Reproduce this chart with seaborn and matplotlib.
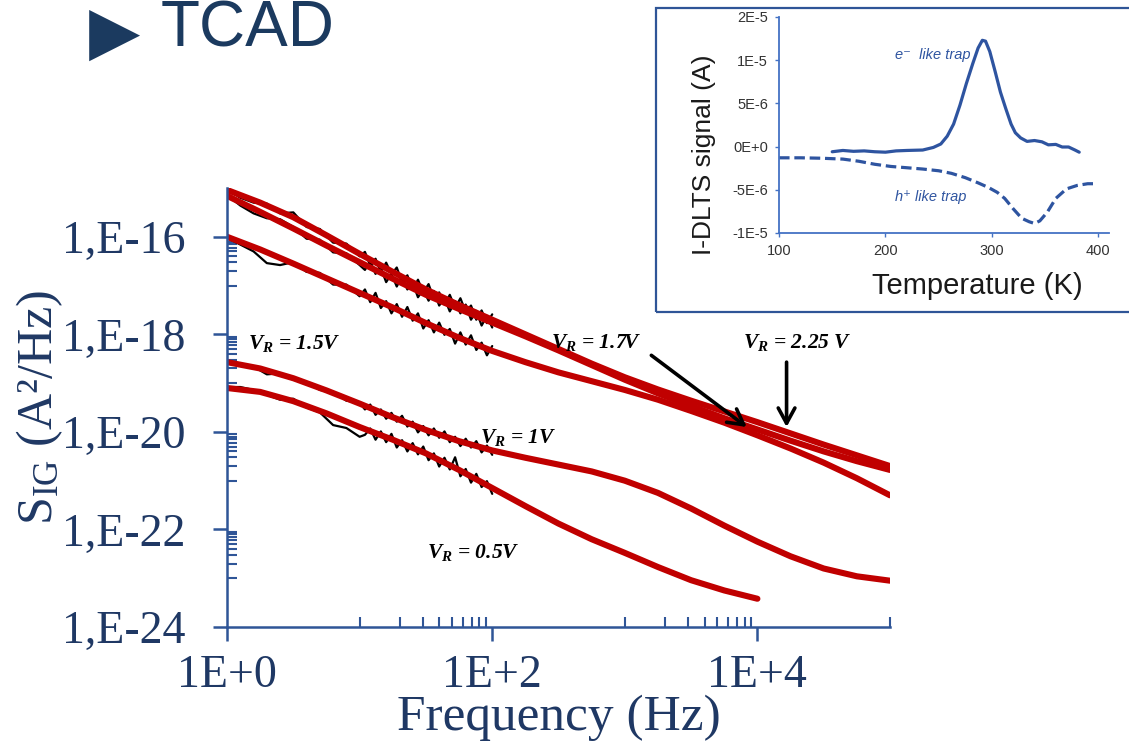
import numpy as np
import seaborn as sns
import matplotlib.pyplot as plt
from matplotlib import ticker
from matplotlib.patches import Rectangle

sns.set_style('white')
plt.rcParams['font.family'] = ['Liberation Serif', 'DejaVu Serif']
plt.rcParams['mathtext.fontset'] = 'custom'
plt.rcParams['mathtext.rm'] = 'Liberation Serif'
plt.rcParams['mathtext.it'] = 'Liberation Serif:italic:bold'
plt.rcParams['mathtext.bf'] = 'Liberation Serif:bold'

NAVY = '#1F3864'
AXBLUE = '#2F5597'
RED = '#C00000'
TRAPBLUE = '#2E54A0'

# ---- TCAD fits: log10(S_IG) at log10(f) = 0, 0.25, ... 5
lf_fit = [0.0, 0.25, 0.5, 0.75, 1.0, 1.25, 1.5, 1.75, 2.0, 2.25, 2.5,
          2.75, 3.0, 3.25, 3.5, 3.75, 4.0, 4.25, 4.5, 4.75, 5.0]
fit_225 = [-15.04, -15.30, -15.60, -15.97, -16.35, -16.72, -17.08, -17.40, -17.70, -18.00, -18.30,
           -18.60, -18.88, -19.13, -19.36, -19.58, -19.80, -20.03, -20.26, -20.48, -20.70]
fit_17 = [-15.16, -15.49, -15.83, -16.18, -16.52, -16.86, -17.19, -17.48, -17.76, -18.04, -18.33,
          -18.63, -18.93, -19.21, -19.47, -19.72, -19.95, -20.18, -20.40, -20.60, -20.78]
fit_15 = [-16.00, -16.26, -16.55, -16.85, -17.15, -17.45, -17.77, -18.07, -18.34, -18.57, -18.78,
          -18.96, -19.14, -19.34, -19.57, -19.81, -20.07, -20.34, -20.63, -20.95, -21.30]
fit_10 = [-18.57, -18.70, -18.90, -19.15, -19.42, -19.70, -19.96, -20.19, -20.38, -20.53, -20.67,
          -20.81, -21.00, -21.25, -21.57, -21.92, -22.25, -22.55, -22.80, -22.96, -23.05]
lf_fit_05 = [0.0, 0.25, 0.5, 0.75, 1.0, 1.25, 1.5, 1.75, 2.0, 2.25, 2.5, 2.75, 3.0, 3.25, 3.5, 3.75, 4.0]
fit_05 = [-19.10, -19.18, -19.37, -19.62, -19.90, -20.16, -20.44, -20.78, -21.15, -21.52, -21.88,
          -22.20, -22.48, -22.77, -23.04, -23.25, -23.42]

# ---- measured spectra (black) below 100 Hz: log10(f), log10(S_IG)
lf_meas = [0.0, 0.1, 0.2, 0.3, 0.4, 0.5, 0.6, 0.7, 0.8, 0.9, 1.0,
           1.04, 1.08, 1.12, 1.16, 1.2, 1.24, 1.28, 1.32, 1.36, 1.40, 1.44, 1.48,
           1.52, 1.56, 1.60, 1.64, 1.68, 1.72, 1.76, 1.80, 1.84, 1.88, 1.92, 1.96, 2.0]
meas_225 = [-15.02, -15.20, -15.30, -15.32, -15.52, -15.50, -15.80, -15.84, -16.12, -16.14, -16.40,
            -16.31, -16.59, -16.45, -16.73, -16.53, -16.77, -16.63, -16.93, -16.79, -17.09, -16.88, -17.14,
            -16.97, -17.28, -17.14, -17.39, -17.19, -17.46, -17.26, -17.54, -17.41, -17.70, -17.51, -17.77, -17.59]
meas_17 = [-15.14, -15.36, -15.52, -15.62, -15.64, -15.80, -16.04, -16.06, -16.32, -16.34, -16.58,
           -16.68, -16.50, -16.76, -16.64, -16.93, -16.76, -17.02, -16.81, -17.08, -16.94, -17.24, -17.08,
           -17.31, -17.11, -17.41, -17.26, -17.53, -17.32, -17.57, -17.39, -17.70, -17.52, -17.82, -17.62, -17.86]
meas_15 = [-16.02, -16.16, -16.30, -16.54, -16.58, -16.52, -16.72, -16.74, -16.98, -16.98, -17.22,
           -17.08, -17.34, -17.15, -17.46, -17.32, -17.57, -17.38, -17.64, -17.44, -17.72, -17.57, -17.88,
           -17.71, -17.96, -17.76, -18.01, -17.89, -18.19, -17.96, -18.21, -18.02, -18.32, -18.17, -18.43, -18.24]
meas_10 = [-18.57, -18.64, -18.66, -18.82, -18.80, -18.93, -18.98, -19.14, -19.18, -19.36, -19.40,
           -19.54, -19.44, -19.65, -19.54, -19.73, -19.61, -19.79, -19.67, -19.89, -19.79, -20.01, -19.88,
           -20.07, -19.93, -20.12, -19.99, -20.21, -20.10, -20.29, -20.14, -20.32, -20.19, -20.42, -20.28, -20.47]
meas_05 = [-19.08, -19.08, -19.14, -19.24, -19.34, -19.32, -19.50, -19.60, -19.86, -19.92, -20.10,
           -20.06, -19.93, -20.16, -19.99, -20.21, -20.04, -20.32, -20.17, -20.40, -20.23, -20.46, -20.30,
           -20.58, -20.44, -20.71, -20.53, -20.77, -20.52, -20.91, -20.76, -21.04, -20.86, -21.13, -21.01, -21.27]

y_major = [1e-24, 1e-22, 1e-20, 1e-18, 1e-16]
y_major_labels = ['1,E-24', '1,E-22', '1,E-20', '1,E-18', '1,E-16']
x_major = [1, 100, 1e4]
x_major_labels = ['1E+0', '1E+2', '1E+4']

# ---- inset: I-DLTS signal (1e-6 A)
e_T = [150, 160, 170, 180, 190, 200, 210, 220, 235, 245, 252, 258, 264, 270, 276, 282, 287, 291,
       294, 298, 303, 308, 313, 318, 322, 327, 333, 340, 347, 353, 360, 366, 372, 378, 382]
e_sig = [-0.6, -0.45, -0.55, -0.5, -0.6, -0.65, -0.5, -0.45, -0.4, -0.1, 0.3, 1.2, 2.6, 4.8, 7.3, 9.6, 11.4, 12.3,
         12.2, 11.0, 8.7, 6.3, 4.4, 2.6, 1.6, 1.0, 0.6, 0.7, 0.55, 0.2, 0.25, -0.05, -0.05, -0.4, -0.65]
h_T = [100, 120, 140, 160, 175, 190, 205, 220, 235, 250, 262, 275, 287, 297, 305, 312, 320, 328,
       335, 340, 345, 352, 360, 370, 380, 390, 397]
h_sig = [-1.3, -1.3, -1.35, -1.45, -1.7, -2.05, -2.3, -2.45, -2.6, -2.8, -3.1, -3.6, -4.2, -4.75, -5.3, -6.0, -7.2, -8.3,
         -8.7, -8.9, -8.6, -7.6, -6.0, -4.9, -4.5, -4.3, -4.3]
in_y_ticks = [-1e-5, -5e-6, 0, 5e-6, 1e-5, 1.5e-5]
in_y_labels = ['-1E-5', '-5E-6', '0E+0', '5E-6', '1E-5', '2E-5']
in_x_ticks = [100, 200, 300, 400]

fig = plt.figure(figsize=(11.29, 7.41), dpi=100)

# inset frame drawn first, behind everything
fig.add_artist(Rectangle((0.581, 0.579), 0.45, 0.410, transform=fig.transFigure,
                         facecolor='none', edgecolor=AXBLUE, lw=1.6, zorder=-1))

ax = fig.add_axes([0.2011, 0.1538, 0.5872, 0.5925])
ax.set_facecolor('none')
ax.set_xscale('log')
ax.set_yscale('log')

f_meas = 10 ** np.array(lf_meas)
for m in [meas_225, meas_17, meas_15, meas_10, meas_05]:
    sns.lineplot(x=f_meas, y=10 ** np.array(m), ax=ax, color='black', lw=1.6, estimator=None)
for fx, fy in [(lf_fit, fit_225), (lf_fit, fit_17), (lf_fit, fit_15), (lf_fit, fit_10), (lf_fit_05, fit_05)]:
    sns.lineplot(x=10 ** np.array(fx), y=10 ** np.array(fy), ax=ax, color=RED, lw=4.4, estimator=None,
                 solid_capstyle='round', solid_joinstyle='round')

ax.set_xlim(1, 1e5)
ax.set_ylim(1e-24, 1e-15)
for s in ['top', 'right']:
    ax.spines[s].set_visible(False)
for s in ['left', 'bottom']:
    ax.spines[s].set_color(AXBLUE)
    ax.spines[s].set_linewidth(1.8)

ax.xaxis.set_major_locator(ticker.FixedLocator(x_major))
ax.xaxis.set_major_formatter(ticker.FixedFormatter(x_major_labels))
ax.xaxis.set_minor_locator(ticker.FixedLocator([10, 20, 30, 40, 50, 60, 70, 80, 90,
                                                1e3, 2e3, 3e3, 4e3, 5e3, 6e3, 7e3, 8e3, 9e3, 1e5]))
ax.xaxis.set_minor_formatter(ticker.NullFormatter())
ax.yaxis.set_major_locator(ticker.FixedLocator(y_major))
ax.yaxis.set_major_formatter(ticker.FixedFormatter(y_major_labels))
y_minor = []
for d in [1e-23, 1e-21, 1e-19, 1e-17]:
    y_minor += [k * d for k in range(1, 10)]
ax.yaxis.set_minor_locator(ticker.FixedLocator(y_minor))
ax.yaxis.set_minor_formatter(ticker.NullFormatter())

ax.tick_params(which='both', bottom=True, left=True)
ax.tick_params(which='major', direction='out', length=10, width=1.8, color=AXBLUE,
               labelsize=33, labelcolor=NAVY)
ax.tick_params(axis='y', which='major', pad=20)
ax.tick_params(axis='x', which='major', pad=10)
ax.tick_params(which='minor', direction='in', length=7, width=1.5, color=AXBLUE)

ax.set_xlabel('Frequency (Hz)', fontsize=37, color=NAVY)
ax.set_ylabel(r'$\mathrm{S}_{\mathrm{IG}}$ (A²/Hz)', fontsize=36, color=NAVY)
ax.xaxis.set_label_coords(0.5, -0.153)
ax.yaxis.set_label_coords(-0.245, 0.5)

lab = dict(fontsize=15.5, fontweight='bold', style='italic', color='black', va='center', ha='left')
ax.text(10 ** 0.16, 10 ** -18.18, r'$V_R$ = 1.5V', **lab)
ax.text(10 ** 1.91, 10 ** -20.11, r'$V_R$ = 1V', **lab)
ax.text(10 ** 1.51, 10 ** -22.47, r'$V_R$ = 0.5V', **lab)
ax.text(10 ** 2.44, 10 ** -18.16, r'$V_R$ = 1.7V', **lab)
ax.text(10 ** 3.89, 10 ** -18.16, r'$V_R$ = 2.25 V', **lab)
arr = dict(arrowstyle='->,head_length=0.55,head_width=0.3', lw=2.6, color='black',
           shrinkA=0, shrinkB=0, mutation_scale=20)
ax.annotate('', xy=(10 ** 3.92, 10 ** -19.90), xytext=(10 ** 3.20, 10 ** -18.43), arrowprops=arr)
ax.annotate('', xy=(10 ** 4.22, 10 ** -19.90), xytext=(10 ** 4.22, 10 ** -18.57), arrowprops=arr)

# title
fig.text(0.0788, 0.955, '▶', fontsize=48, color='#1B3A5F', va='center', ha='left',
         family=['DejaVu Sans'])
fig.text(0.1426, 0.9605, 'TCAD', fontsize=46, color='#1B3A5F', va='center', ha='left',
         family=['Liberation Sans', 'DejaVu Sans'])

# inset axes
ax_in = fig.add_axes([0.690, 0.6856, 0.2923, 0.2915])
ax_in.set_facecolor('none')
sns.lineplot(x=e_T, y=np.array(e_sig) * 1e-6, ax=ax_in, color=TRAPBLUE, lw=2.3, estimator=None)
sns.lineplot(x=h_T, y=np.array(h_sig) * 1e-6, ax=ax_in, color=TRAPBLUE, lw=2.3, estimator=None,
             linestyle=(0, (3.3, 1.5)))
ax_in.set_xlim(100, 410)
ax_in.set_ylim(-1e-5, 1.5e-5)
ax_in.set_xticks(in_x_ticks)
ax_in.set_yticks(in_y_ticks)
ax_in.set_yticklabels(in_y_labels)
for s in ['top', 'right']:
    ax_in.spines[s].set_visible(False)
for s in ['left', 'bottom']:
    ax_in.spines[s].set_color('#4472C4')
    ax_in.spines[s].set_linewidth(1.3)
sans = ['Liberation Sans', 'DejaVu Sans']
ax_in.tick_params(bottom=True, left=True, direction='out', length=3, width=1.0, color='#4472C4',
                  labelsize=10.5, labelcolor='#333333', pad=5)
for t in ax_in.get_xticklabels() + ax_in.get_yticklabels():
    t.set_family(sans)
ax_in.set_xlabel('Temperature (K)', fontsize=21, color='#1a1a1a', family=sans)
ax_in.set_ylabel('I-DLTS signal (A)', fontsize=19, color='#1a1a1a', family=sans)
ax_in.xaxis.set_label_coords(0.60, -0.183)
ax_in.yaxis.set_label_coords(-0.19, 0.36)
ax_in.text(209, 10.6e-6, 'e⁻  like trap', fontsize=10.5, style='italic', color=TRAPBLUE,
           va='center', ha='left', family=sans)
ax_in.text(209, -5.8e-6, 'h⁺ like trap', fontsize=10.5, style='italic', color=TRAPBLUE,
           va='center', ha='left', family=sans)

fig.savefig('out.png', dpi=100)
